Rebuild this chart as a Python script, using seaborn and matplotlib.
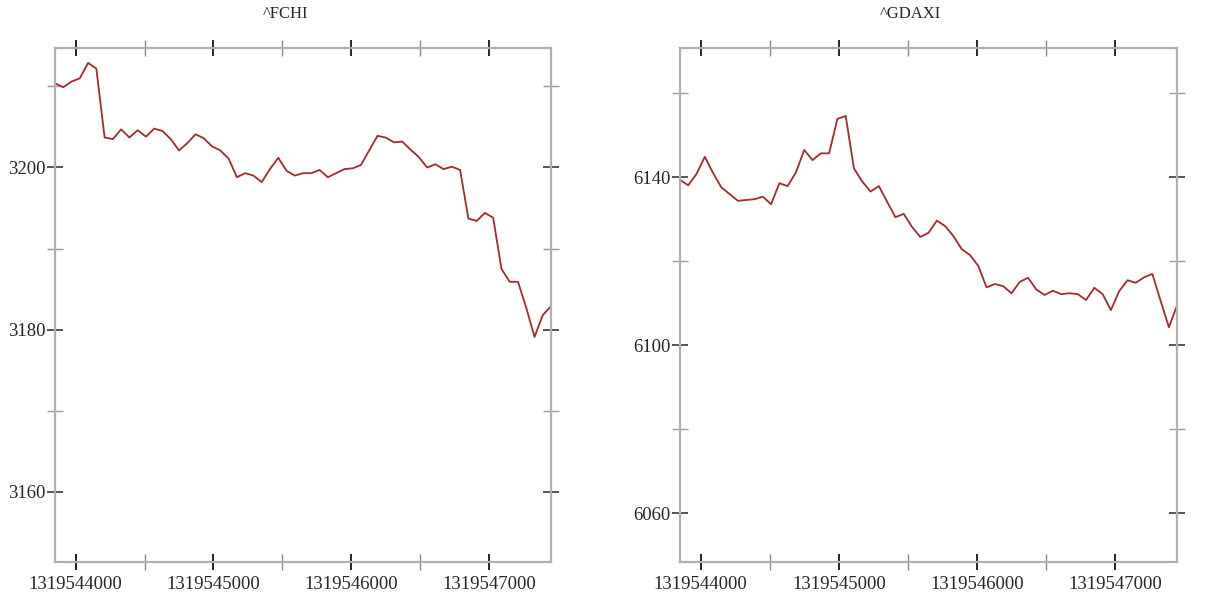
import numpy as np
import pandas as pd
import matplotlib
matplotlib.use('Agg')
import matplotlib.pyplot as plt
import seaborn as sns
from matplotlib.ticker import MultipleLocator, FuncFormatter

# timestamps (one point a minute), shared by both panels
times = [
    1319543850, 1319543910, 1319543970, 1319544030, 1319544090, 1319544150, 1319544210, 1319544270,
    1319544330, 1319544390, 1319544450, 1319544510, 1319544570, 1319544630, 1319544690, 1319544750,
    1319544810, 1319544870, 1319544930, 1319544990, 1319545050, 1319545110, 1319545170, 1319545230,
    1319545290, 1319545350, 1319545410, 1319545470, 1319545530, 1319545590, 1319545650, 1319545710,
    1319545770, 1319545830, 1319545890, 1319545950, 1319546010, 1319546070, 1319546130, 1319546190,
    1319546250, 1319546310, 1319546370, 1319546430, 1319546490, 1319546550, 1319546610, 1319546670,
    1319546730, 1319546790, 1319546850, 1319546910, 1319546970, 1319547030, 1319547090, 1319547150,
    1319547210, 1319547270, 1319547330, 1319547390, 1319547450,
]

fchi = [
    3210.4, 3209.9, 3210.6, 3211.0, 3212.9, 3212.2, 3203.7, 3203.5, 3204.7, 3203.7,
    3204.6, 3203.8, 3204.8, 3204.5, 3203.5, 3202.1, 3203.0, 3204.1, 3203.6, 3202.6,
    3202.1, 3201.1, 3198.8, 3199.3, 3199.0, 3198.2, 3199.8, 3201.2, 3199.6, 3199.0,
    3199.3, 3199.3, 3199.7, 3198.8, 3199.3, 3199.8, 3199.9, 3200.3, 3202.1, 3203.9,
    3203.7, 3203.1, 3203.2, 3202.2, 3201.3, 3200.0, 3200.4, 3199.8, 3200.1, 3199.7,
    3193.7, 3193.4, 3194.4, 3193.8, 3187.5, 3185.9, 3185.9, 3182.7, 3179.1, 3181.8,
    3182.9,
]

gdaxi = [
    6139.4, 6138.1, 6140.8, 6144.9, 6141.0, 6137.6, 6136.0, 6134.4, 6134.6, 6134.8,
    6135.4, 6133.6, 6138.6, 6137.9, 6141.2, 6146.5, 6144.1, 6145.7, 6145.7, 6153.9,
    6154.6, 6142.1, 6139.0, 6136.6, 6137.9, 6134.2, 6130.5, 6131.3, 6128.2, 6125.8,
    6126.8, 6129.7, 6128.4, 6126.0, 6122.9, 6121.5, 6118.9, 6113.8, 6114.6, 6114.1,
    6112.4, 6115.1, 6116.1, 6113.3, 6112.0, 6113.0, 6112.2, 6112.4, 6112.2, 6110.8,
    6113.7, 6112.2, 6108.4, 6112.9, 6115.5, 6114.9, 6116.2, 6117.0, 6110.6, 6104.3,
    6109.6,
]

titles = ['^FCHI', '^GDAXI']
y_limits = [(3151.3, 3214.7), (6048.5, 6170.7)]
y_major = [(20, 0), (40, 20)]   # step, offset
y_minor = [10, 20]

df = pd.DataFrame({'time': times, '^FCHI': fchi, '^GDAXI': gdaxi})

sns.set_style('white')
plt.rcParams['font.family'] = ['Liberation Serif', 'DejaVu Serif']

fig = plt.figure(figsize=(12.09, 6.01), dpi=100)
ax_left = fig.add_axes([0.0455, 0.0644, 0.4103, 0.8552])
ax_right = fig.add_axes([0.5624, 0.0653, 0.4113, 0.8543])

for ax, name, ylim, maj, mnr in zip([ax_left, ax_right], titles, y_limits, y_major, y_minor):
    sns.lineplot(data=df, x='time', y=name, ax=ax, color='#a52a2a', linewidth=1.3)
    ax.set_xlim(times[0], times[-1])
    ax.set_ylim(*ylim)
    ax.set_xlabel('')
    ax.set_ylabel('')
    ax.set_title(name, x=0.464, y=1.066, va='center', fontsize=12, pad=0)

    ax.xaxis.set_major_locator(MultipleLocator(1000))
    ax.xaxis.set_minor_locator(MultipleLocator(500))
    ax.yaxis.set_major_locator(MultipleLocator(maj[0], offset=maj[1]))
    ax.yaxis.set_minor_locator(MultipleLocator(mnr))
    ax.xaxis.set_major_formatter(FuncFormatter(lambda v, p: f'{v:.0f}'))
    ax.yaxis.set_major_formatter(FuncFormatter(lambda v, p: f'{v:.0f}'))

    for side in ['left', 'right', 'top', 'bottom']:
        ax.spines[side].set_visible(True)
        ax.spines[side].set_color('#b0b0b0')
        ax.spines[side].set_linewidth(1.6)

    ax.tick_params(axis='x', which='major', direction='inout', length=12, width=1.4,
                   color='#222222', top=True, bottom=True, labelsize=13.5, pad=4)
    ax.tick_params(axis='x', which='minor', direction='inout', length=11, width=1.0,
                   color='#888888', top=True, bottom=True)
    ax.tick_params(axis='y', which='major', direction='inout', length=12, width=1.4,
                   color='#555555', left=True, right=True, labelsize=13.5, pad=1)
    ax.tick_params(axis='y', which='minor', direction='inout', length=11, width=1.0,
                   color='#999999', left=True, right=True)

fig.savefig('out.png', dpi=100)
